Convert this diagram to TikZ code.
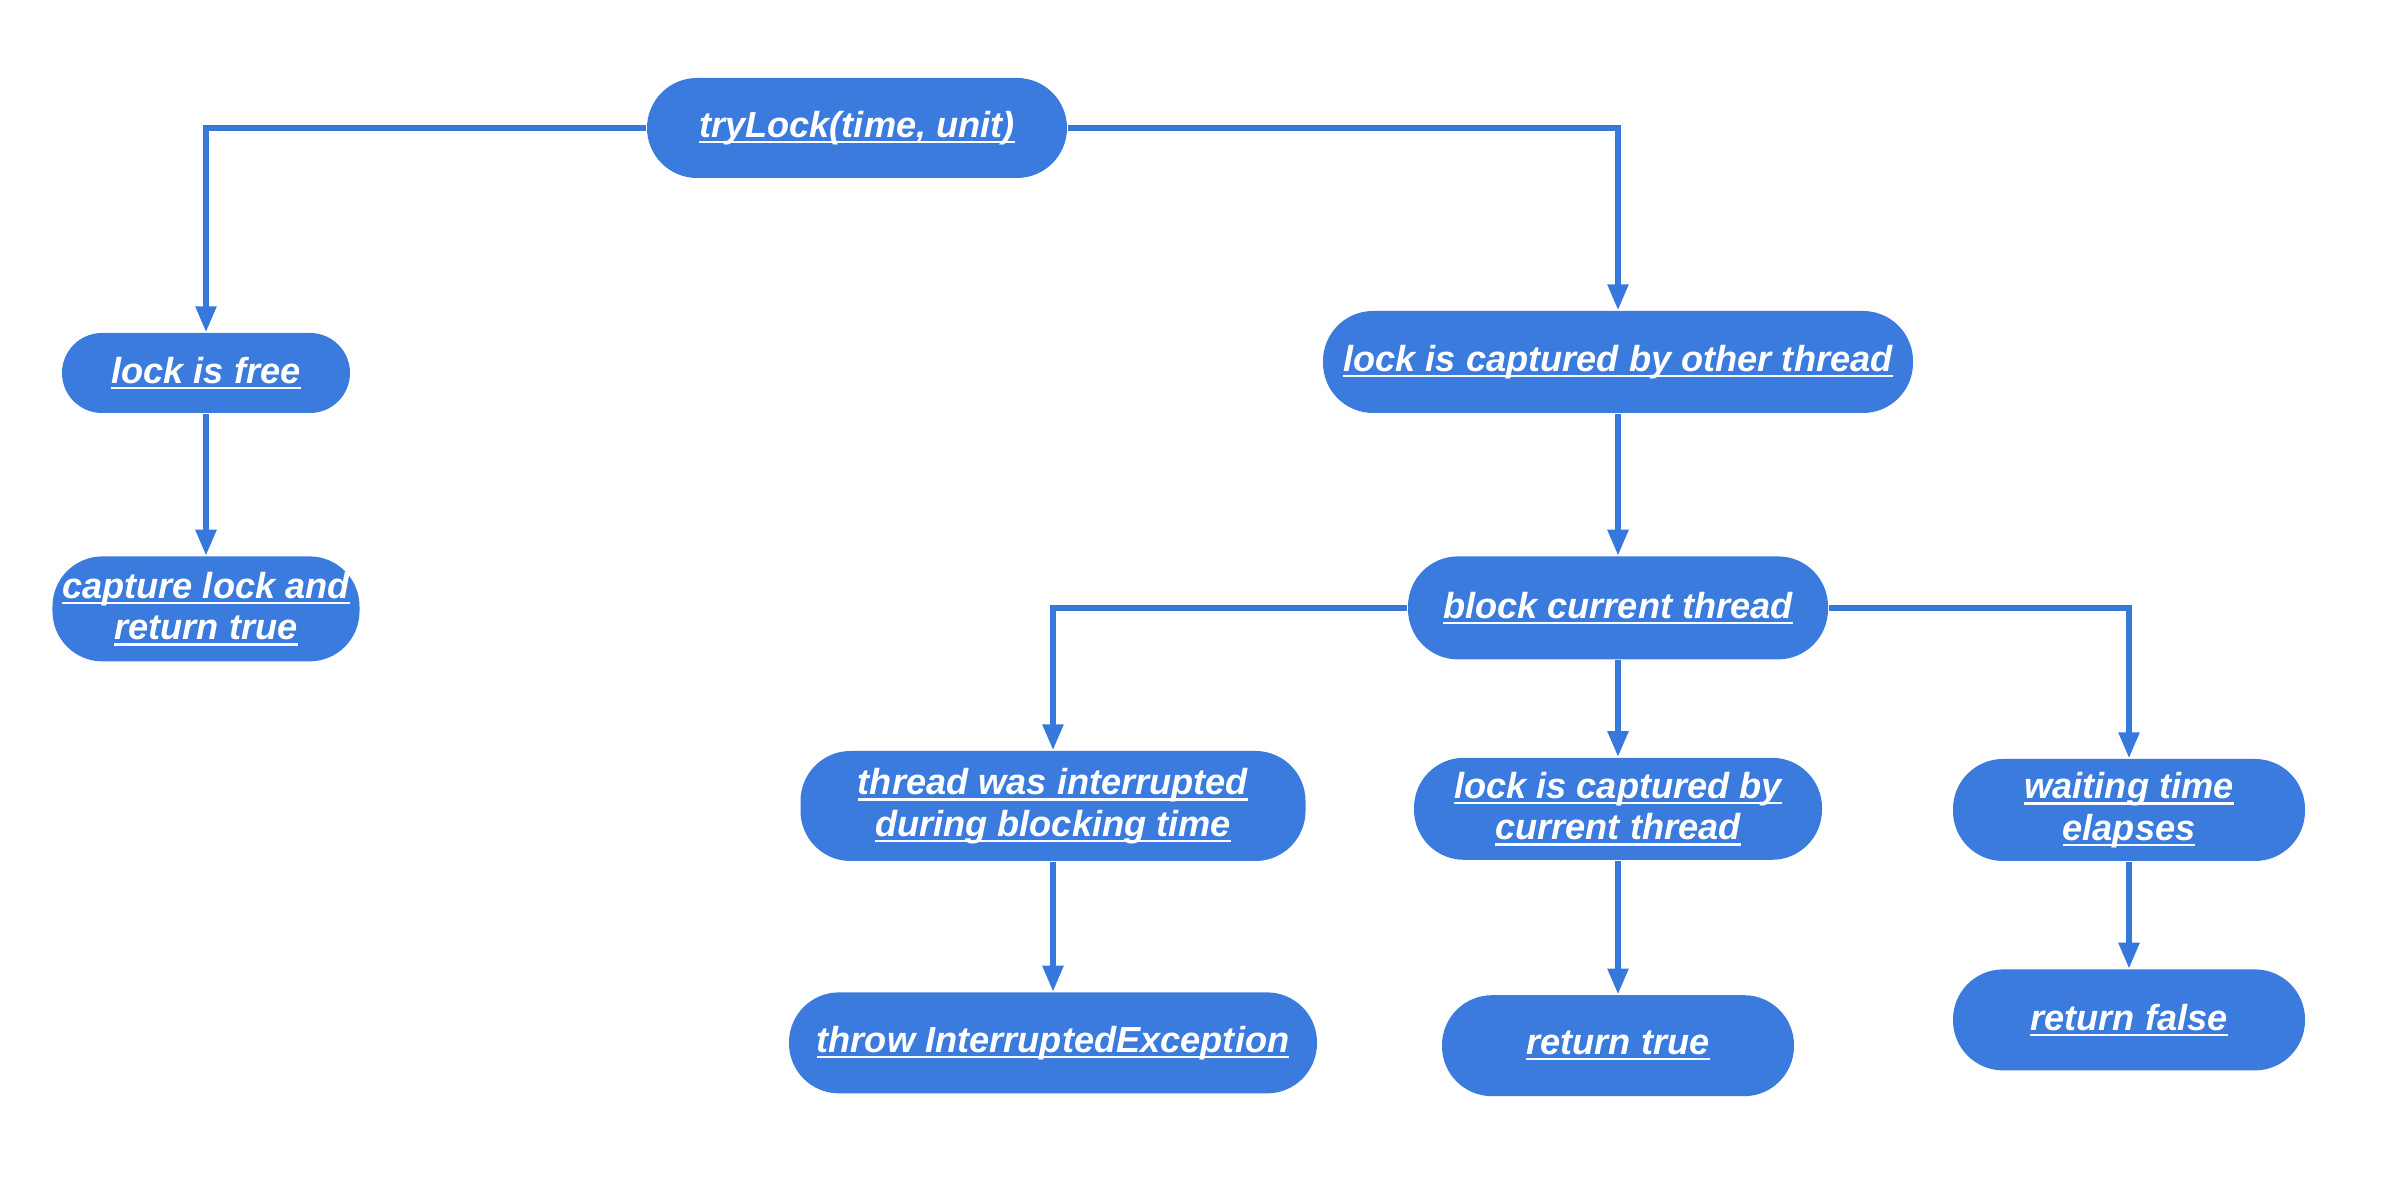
\documentclass[tikz,border=0pt]{standalone}
\usepackage{fontspec}
\setmainfont{Liberation Sans}
\usepackage{xcolor}
\usepackage{tikz}
\usetikzlibrary{positioning,arrows.meta}

\definecolor{stateblue}{RGB}{58,123,221}
\definecolor{lineblue}{RGB}{54,121,218}
% underlined text, line at a fixed depth
\newsavebox{\ulsave}
\newcommand{\ulbox}[1]{\sbox{\ulsave}{#1}\rlap{\rule[-1.7pt]{\wd\ulsave}{0.7pt}}\usebox{\ulsave}}

\begin{document}
\begin{tikzpicture}[
    node distance=1.42cm,
    state/.style={rectangle, fill=stateblue, rounded corners=5mm, align=center, text=white, inner sep=2pt, font=\fontsize{10.3}{11.8}\selectfont\bfseries\itshape},
    arrow/.style={-{Triangle[length=2.6mm, width=2.0mm]}, line width=1.6pt, draw=lineblue},
]
\useasboundingbox (0,0) rectangle (23.98,11.84);

\node[state, minimum width=4.2cm, minimum height=1.0cm] (T) at (8.57,10.56) {\ulbox{tryLock(time, unit)}};
\node[state, minimum width=2.88cm, minimum height=0.8cm, rounded corners=4mm] (F) at (2.06,8.11) {\ulbox{lock is free}};
\node[state, minimum width=3.07cm, minimum height=1.05cm, below=of F] (C) {\ulbox{capture lock and}\\\ulbox{return true}};
\node[state, minimum width=5.9cm, minimum height=1.02cm] (O) at (16.18,8.22) {\ulbox{lock is captured by other thread}};
\node[state, minimum width=4.2cm, minimum height=1.03cm, below=of O] (B) {\ulbox{block current thread}};
\node[state, minimum width=5.05cm, minimum height=1.1cm] (I) at (10.53,3.78) {\ulbox{thread was interrupted}\\\ulbox{during blocking time}};
\node[state, minimum width=4.08cm, minimum height=1.02cm, below=0.97cm of B] (K) {\ulbox{lock is captured by}\\\ulbox{current thread}};
\node[state, minimum width=3.52cm, minimum height=1.02cm] (W) at (21.29,3.74) {\ulbox{waiting time}\\\ulbox{elapses}};
\node[state, minimum width=5.28cm, minimum height=1.01cm, below=1.3cm of I] (X) {\ulbox{throw InterruptedException}};
\node[state, minimum width=3.52cm, minimum height=1.01cm, below=1.34cm of K] (RT) {\ulbox{return true}};
\node[state, minimum width=3.52cm, minimum height=1.01cm, below=1.07cm of W] (RF) {\ulbox{return false}};

\draw[arrow] (T) -| (F);
\draw[arrow] (T) -| (O);
\draw[arrow] (F) -- (C);
\draw[arrow] (O) -- (B);
\draw[arrow] (B) -| (I);
\draw[arrow] (B) -- (K);
\draw[arrow] (B) -| (W);
\draw[arrow] (I) -- (X);
\draw[arrow] (K) -- (RT);
\draw[arrow] (W) -- (RF);

\end{tikzpicture}
\end{document}
